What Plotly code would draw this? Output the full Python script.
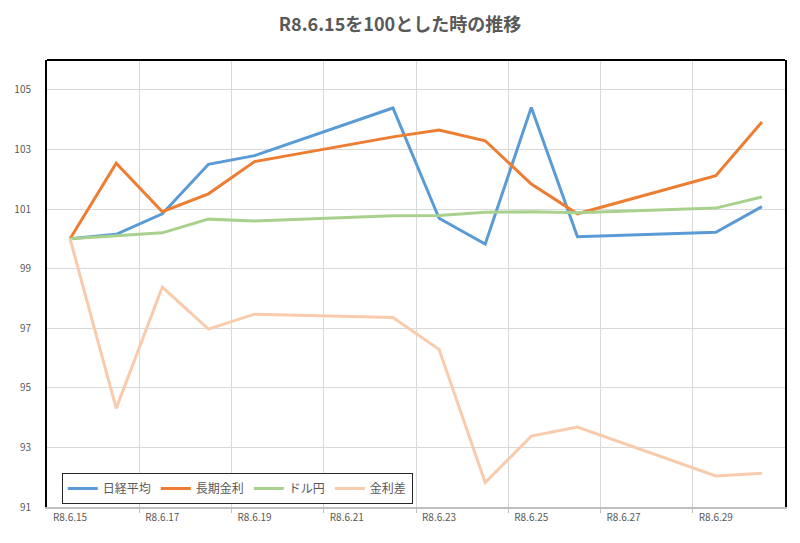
import plotly.graph_objects as go

# ---- data ----
days = [15, 16, 17, 18, 19, 22, 23, 24, 25, 26, 29, 30]
nikkei = [100.0, 100.15, 100.84, 102.50, 102.79, 104.39, 100.69, 99.82, 104.41, 100.07, 100.22, 101.08]
long_rate = [100.0, 102.54, 100.91, 101.51, 102.59, 103.42, 103.65, 103.29, 101.84, 100.84, 102.12, 103.92]
usd_jpy = [100.0, 100.10, 100.20, 100.66, 100.60, 100.77, 100.78, 100.89, 100.91, 100.87, 101.03, 101.40]
rate_diff = [100.0, 94.31, 98.38, 96.97, 97.47, 97.36, 96.29, 91.82, 93.38, 93.68, 92.04, 92.13]

series_names = ["日経平均", "長期金利", "ドル円", "金利差"]
series_values = [nikkei, long_rate, usd_jpy, rate_diff]
series_colors = ["#5B9BD5", "#ED7D31", "#A9D18E", "#F8CBAD"]

x_tick_vals = [15, 17, 19, 21, 23, 25, 27, 29]
x_tick_text = ["R8.6.15", "R8.6.17", "R8.6.19", "R8.6.21", "R8.6.23", "R8.6.25", "R8.6.27", "R8.6.29"]
x_grid_vals = [16.5, 18.5, 20.5, 22.5, 24.5, 26.5, 28.5]
y_tick_vals = [91, 93, 95, 97, 99, 101, 103, 105]

title_text = "R8.6.15を100とした時の推移"

FONT = "Noto Sans CJK JP"
GRAY = "#595959"

fig = go.Figure()
for name, vals, col in zip(series_names, series_values, series_colors):
    fig.add_trace(go.Scatter(
        x=days, y=vals, name=name, mode="lines",
        line=dict(color=col, width=3),
    ))

fig.update_layout(
    width=800, height=543,
    margin=dict(l=47, r=15, t=60, b=36),
    paper_bgcolor="white", plot_bgcolor="white",
    font=dict(family=FONT, color=GRAY, size=11),
    title=dict(text=title_text, x=0.5, xanchor="center", y=0.955, yanchor="middle",
               font=dict(family=FONT, size=18, color=GRAY, weight="bold")),
    showlegend=True,
    legend=dict(
        orientation="h", x=0.02, xanchor="left", y=0.076, yanchor="top",
        bgcolor="white", bordercolor="#262626", borderwidth=1,
        font=dict(family=FONT, size=12, color=GRAY),
        itemwidth=30, tracegroupgap=0,
    ),
    shapes=[dict(type="line", xref="paper", yref="paper", x0=0, x1=1, y0=1, y1=1,
                 line=dict(color="black", width=2))],
)

fig.update_xaxes(
    range=[14.5, 30.5],
    tickmode="array", tickvals=x_tick_vals, ticktext=x_tick_text,
    showgrid=False, ticks="",
    tickfont=dict(family=FONT, size=10, color=GRAY),
    showline=True, linecolor="#BFBFBF", linewidth=2,
    minor=dict(tickmode="array", tickvals=x_grid_vals, showgrid=True,
               gridcolor="#D9D9D9", gridwidth=1, ticks="outside",
               ticklen=4, tickcolor="#BFBFBF"),
    zeroline=False, fixedrange=True,
)
fig.update_yaxes(
    range=[91, 106],
    tickmode="array", tickvals=y_tick_vals,
    showgrid=True, gridcolor="#D9D9D9", gridwidth=1,
    tickfont=dict(family=FONT, size=10, color=GRAY),
    ticks="", ticklabelstandoff=12,
    showline=True, linecolor="black", linewidth=2, mirror=True,
    zeroline=False, fixedrange=True,
)

fig.write_html("out.html")
